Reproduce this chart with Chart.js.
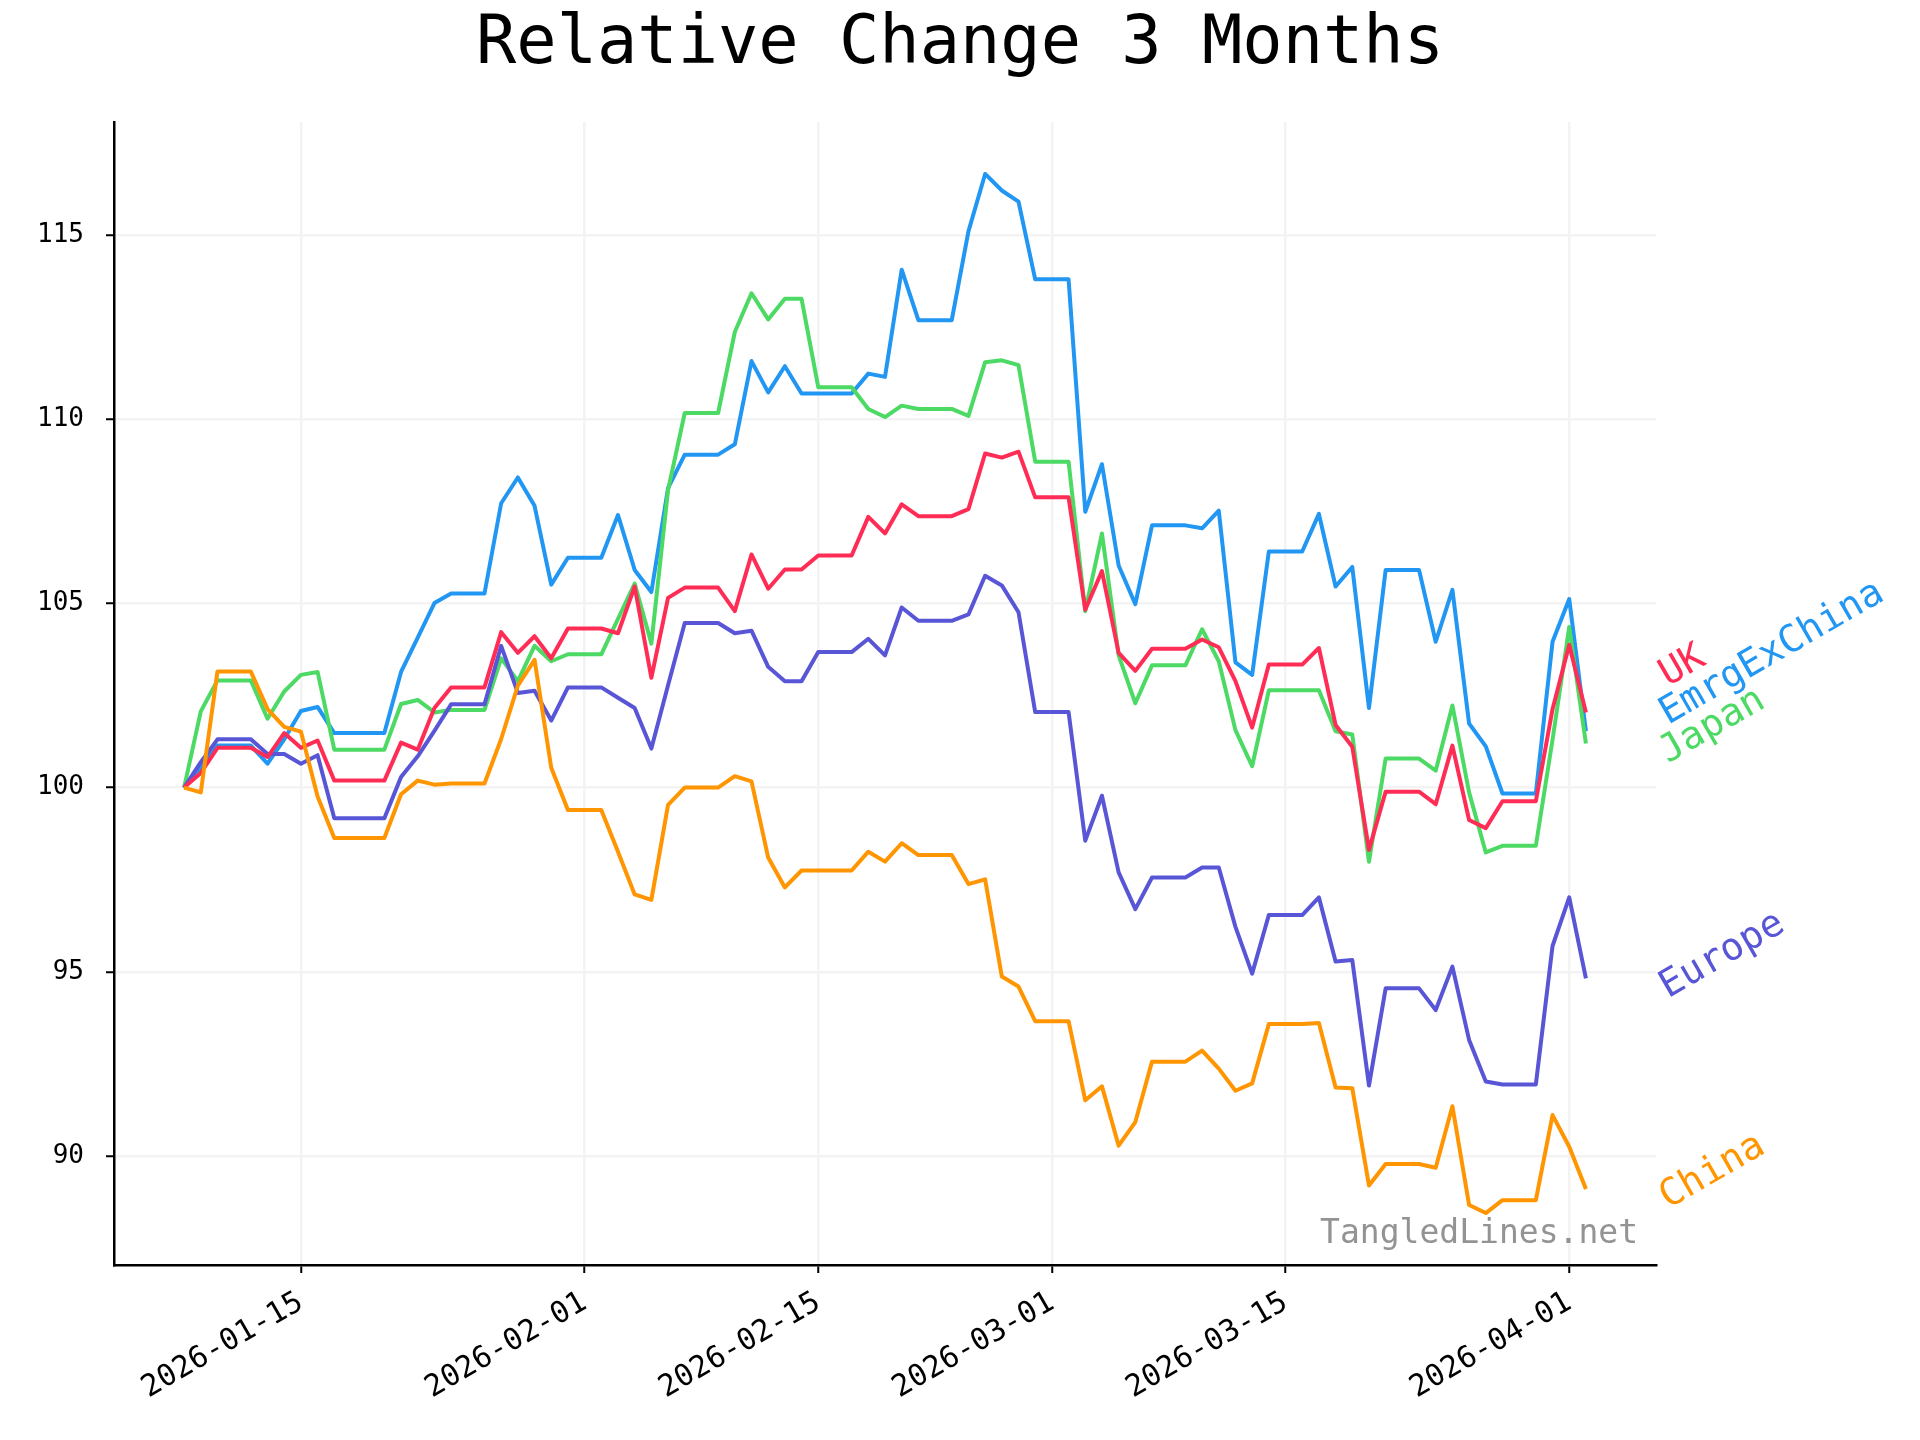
<!DOCTYPE html>
<html>
<head>
<meta charset="utf-8">
<script src="https://cdn.jsdelivr.net/npm/chart.js@4.4.1/dist/chart.umd.min.js"></script>
<style>
  html, body { margin: 0; padding: 0; background: #fff; }
  #wrap { width: 1920px; height: 1440px; }
</style>
</head>
<body>
<div id="wrap"><canvas id="myChart" width="1920" height="1440"></canvas></div>
<script>
// first day of the series, one value per calendar day after it
var startDate = "2026-01-08";

var uk = [100, 100.40, 101.08, 101.08, 101.08, 100.83, 101.48, 101.08, 101.28, 100.19,
  100.19, 100.19, 100.19, 101.22, 101.03, 102.16, 102.72, 102.72, 102.72, 104.22,
  103.66, 104.11, 103.51, 104.32, 104.32, 104.32, 104.19, 105.46, 102.98, 105.15,
  105.43, 105.43, 105.43, 104.79, 106.33, 105.40, 105.92, 105.92, 106.30, 106.30,
  106.30, 107.35, 106.90, 107.69, 107.37, 107.37, 107.37, 107.56, 109.07, 108.96,
  109.12, 107.88, 107.88, 107.88, 104.83, 105.88, 103.66, 103.17, 103.77, 103.77,
  103.77, 104.02, 103.81, 102.89, 101.63, 103.34, 103.34, 103.34, 103.79, 101.70,
  101.11, 98.31, 99.89, 99.89, 99.89, 99.55, 101.14, 99.12, 98.90, 99.63,
  99.63, 99.63, 102.13, 103.88, 102.04];

var emrgExChina = [100, 100.55, 101.14, 101.14, 101.14, 100.65, 101.31, 102.08, 102.19, 101.48,
  101.48, 101.48, 101.48, 103.14, 104.07, 105.01, 105.27, 105.27, 105.27, 107.72,
  108.42, 107.65, 105.51, 106.24, 106.24, 106.24, 107.40, 105.91, 105.31, 108.13,
  109.04, 109.04, 109.04, 109.32, 111.58, 110.73, 111.44, 110.70, 110.70, 110.70,
  110.70, 111.24, 111.15, 114.06, 112.69, 112.69, 112.69, 115.10, 116.66, 116.21,
  115.91, 113.80, 113.80, 113.80, 107.49, 108.78, 106.03, 104.98, 107.12, 107.12,
  107.12, 107.04, 107.52, 103.40, 103.06, 106.41, 106.41, 106.41, 107.43, 105.46,
  105.99, 102.16, 105.91, 105.91, 105.91, 103.96, 105.37, 101.74, 101.12, 99.84,
  99.84, 99.84, 103.96, 105.12, 101.53];

var japan = [100, 102.07, 102.91, 102.91, 102.91, 101.87, 102.61, 103.06, 103.14, 101.03,
  101.03, 101.03, 101.03, 102.27, 102.38, 102.04, 102.11, 102.11, 102.11, 103.51,
  102.89, 103.85, 103.43, 103.62, 103.62, 103.62, 104.58, 105.54, 103.91, 108.08,
  110.17, 110.17, 110.17, 112.37, 113.42, 112.71, 113.27, 113.27, 110.87, 110.87,
  110.87, 110.28, 110.06, 110.37, 110.28, 110.28, 110.28, 110.09, 111.55, 111.60,
  111.47, 108.85, 108.85, 108.85, 104.79, 106.90, 103.59, 102.29, 103.32, 103.32,
  103.32, 104.30, 103.43, 101.56, 100.58, 102.64, 102.64, 102.64, 102.64, 101.53,
  101.44, 97.99, 100.79, 100.79, 100.79, 100.46, 102.23, 99.87, 98.24, 98.42,
  98.42, 98.42, 101.30, 104.36, 101.20];

var europe = [100, 100.69, 101.31, 101.31, 101.31, 100.91, 100.91, 100.65, 100.88, 99.17,
  99.17, 99.17, 99.17, 100.29, 100.85, 101.54, 102.26, 102.26, 102.26, 103.85,
  102.57, 102.63, 101.82, 102.72, 102.72, 102.72, 102.44, 102.16, 101.06, 102.78,
  104.47, 104.47, 104.47, 104.19, 104.26, 103.28, 102.89, 102.89, 103.68, 103.68,
  103.68, 104.04, 103.59, 104.89, 104.53, 104.53, 104.53, 104.70, 105.75, 105.49,
  104.76, 102.05, 102.05, 102.05, 98.56, 99.78, 97.70, 96.70, 97.56, 97.56,
  97.56, 97.83, 97.83, 96.22, 94.95, 96.54, 96.54, 96.54, 97.02, 95.28,
  95.32, 91.91, 94.55, 94.55, 94.55, 93.96, 95.14, 93.15, 92.02, 91.94,
  91.94, 91.94, 95.70, 97.02, 94.82];

var china = [100, 99.87, 103.15, 103.15, 103.15, 102.13, 101.65, 101.52, 99.76, 98.63,
  98.63, 98.63, 98.63, 99.82, 100.19, 100.08, 100.11, 100.11, 100.11, 101.32,
  102.77, 103.47, 100.54, 99.39, 99.39, 99.39, 98.26, 97.10, 96.95, 99.53,
  100.00, 100.00, 100.00, 100.31, 100.17, 98.10, 97.29, 97.75, 97.75, 97.75,
  97.75, 98.26, 97.99, 98.49, 98.17, 98.17, 98.17, 97.38, 97.51, 94.87,
  94.60, 93.66, 93.66, 93.66, 91.51, 91.89, 90.28, 90.92, 92.56, 92.56,
  92.56, 92.86, 92.37, 91.77, 91.97, 93.58, 93.58, 93.58, 93.61, 91.86,
  91.84, 89.20, 89.78, 89.78, 89.78, 89.68, 91.35, 88.67, 88.45, 88.80,
  88.80, 88.80, 91.11, 90.25, 89.10];

var seriesNames = ["UK", "EmrgExChina", "Japan", "Europe", "China"];
var seriesValues = [uk, emrgExChina, japan, europe, china];
var seriesColors = ["#ff2d55", "#2196f3", "#4cd964", "#5856d6", "#ff9500"];
// lower order is drawn on top
var seriesOrder = [1, 4, 3, 2, 0];

var xTickDates = ["2026-01-15", "2026-02-01", "2026-02-15", "2026-03-01", "2026-03-15", "2026-04-01"];
var yTickValues = [90, 95, 100, 105, 110, 115];

var titleText = "Relative Change 3 Months";
var watermark = "TangledLines.net";

var MONO = '"DejaVu Sans Mono", "Liberation Mono", monospace';

function dayIndex(s) {
  var p = s.split("-");
  var q = startDate.split("-");
  return (Date.UTC(+p[0], +p[1] - 1, +p[2]) - Date.UTC(+q[0], +q[1] - 1, +q[2])) / 86400000;
}

function toPoints(values) {
  return values.map(function (v, i) { return { x: i, y: v }; });
}

// matplotlib style 5% margins
function margins(lo, hi) {
  var pad = (hi - lo) * 0.05;
  return [lo - pad, hi + pad];
}

var allValues = [].concat.apply([], seriesValues);
var yRange = margins(Math.min.apply(null, allValues), Math.max.apply(null, allValues));
var xRange = margins(0, uk.length - 1);

var datasets = seriesNames.map(function (name, k) {
  return {
    label: name,
    data: toPoints(seriesValues[k]),
    borderColor: seriesColors[k],
    backgroundColor: seriesColors[k],
    borderWidth: 4,
    pointRadius: 0,
    tension: 0,
    fill: false,
    borderJoinStyle: "round",
    order: seriesOrder[k]
  };
});

var decorPlugin = {
  id: "decor",
  afterDraw: function (chart) {
    var ctx = chart.ctx;
    var area = chart.chartArea;
    var yScale = chart.scales.y;

    ctx.save();
    // title
    ctx.fillStyle = "#000";
    ctx.font = "67px " + MONO;
    ctx.textAlign = "center";
    ctx.textBaseline = "middle";
    ctx.fillText(titleText, 960, 46);

    // watermark
    ctx.fillStyle = "rgba(128,128,128,0.85)";
    ctx.font = "33px " + MONO;
    ctx.textAlign = "right";
    ctx.textBaseline = "middle";
    ctx.fillText(watermark, area.right - 18, area.bottom - 31);

    // end labels, pushed apart when they crowd
    var items = seriesNames.map(function (name, k) {
      var vals = seriesValues[k];
      return { name: name, color: seriesColors[k], y: yScale.getPixelForValue(vals[vals.length - 1]) + 20 };
    });
    items.sort(function (a, b) { return b.y - a.y; });
    for (var i = 1; i < items.length; i++) {
      if (items[i].y > items[i - 1].y - 38.5) items[i].y = items[i - 1].y - 38.5;
    }
    ctx.font = "38px " + MONO;
    ctx.textAlign = "left";
    ctx.textBaseline = "alphabetic";
    items.forEach(function (it) {
      ctx.save();
      ctx.translate(area.right + 12, it.y);
      ctx.rotate(-Math.PI / 6);
      ctx.fillStyle = it.color;
      ctx.fillText(it.name, 0, 0);
      ctx.restore();
    });
    ctx.restore();
  }
};

var ctx = document.getElementById("myChart").getContext("2d");
var chart = new Chart(ctx, {
  type: "line",
  data: { datasets: datasets },
  options: {
    responsive: false,
    animation: false,
    devicePixelRatio: 1,
    layout: { padding: { top: 122, right: 264, left: 0, bottom: 0 } },
    plugins: {
      legend: { display: false },
      title: { display: false },
      tooltip: { enabled: false }
    },
    scales: {
      x: {
        type: "linear",
        min: xRange[0],
        max: xRange[1],
        afterBuildTicks: function (scale) {
          scale.ticks = xTickDates.map(function (d) { return { value: dayIndex(d) }; });
        },
        afterFit: function (scale) { scale.height = 175; },
        ticks: {
          autoSkip: false,
          maxRotation: 30,
          minRotation: 30,
          padding: 12,
          color: "#000",
          font: { family: MONO, size: 30 },
          callback: function (value, index) { return xTickDates[index]; }
        },
        grid: {
          color: "#f3f3f3",
          lineWidth: 2.5,
          tickColor: "#000",
          tickWidth: 2,
          tickLength: 8
        },
        border: { color: "#000", width: 2.5 }
      },
      y: {
        min: yRange[0],
        max: yRange[1],
        afterBuildTicks: function (scale) {
          scale.ticks = yTickValues.map(function (v) { return { value: v }; });
        },
        afterFit: function (scale) { scale.width = 114; },
        ticks: {
          padding: 22,
          color: "#000",
          font: { family: MONO, size: 26 },
          callback: function (value) { return String(value); }
        },
        grid: {
          color: "#f3f3f3",
          lineWidth: 2.5,
          tickColor: "#000",
          tickWidth: 2,
          tickLength: 8
        },
        border: { color: "#000", width: 2.5 }
      }
    }
  },
  plugins: [decorPlugin]
});
</script>
</body>
</html>
